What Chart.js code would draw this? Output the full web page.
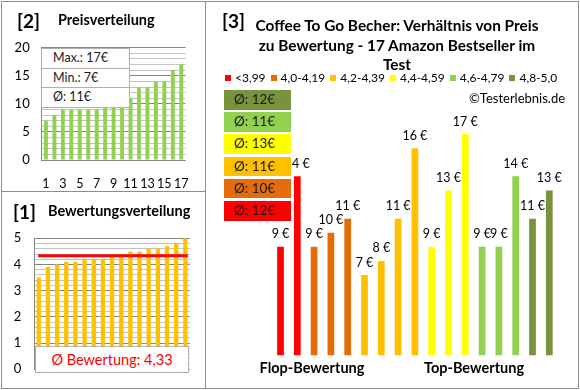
<!DOCTYPE html>
<html><head><meta charset="utf-8">
<script src="https://cdn.jsdelivr.net/npm/chart.js@4.4.1/dist/chart.umd.min.js"></script>
<style>
html,body{margin:0;padding:0;background:#fff;}
#wrap{position:relative;width:580px;height:390px;overflow:hidden;font-family:Lato,'Open Sans',sans-serif;color:#000;}
.abs{position:absolute;}
.t{position:absolute;white-space:nowrap;line-height:1;}
.line{position:absolute;background:#8c8c8c;z-index:5;}
canvas{display:block;}
</style></head><body>
<div id="wrap">
  <canvas id="c2" class="abs" width="205" height="191" style="left:0;top:0"></canvas>
  <canvas id="c1" class="abs" width="205" height="198" style="left:0;top:192px"></canvas>
  <canvas id="c3" class="abs" width="372" height="388" style="left:206px;top:0"></canvas>
</div>
<script>
// ---------- data ----------
const rankLabels = ['1','2','3','4','5','6','7','8','9','10','11','12','13','14','15','16','17'];
const pricesSorted = [7,8,9,9,9,9,9,10,10,10,11,13,13,14,14,16,17];
const ratingsSorted = [3.5,3.9,4.0,4.1,4.1,4.2,4.2,4.2,4.3,4.4,4.5,4.5,4.6,4.6,4.7,4.8,5.0];
const avgRating = 4.33;
const priceStats = ['Max.: 17€','Min.: 7€','Ø: 11€'];
const barPrices = [9,14,9,10,11,7,8,11,16,9,13,17,9,9,14,11,13];
const barClass  = [0,0,1,1,1,2,2,2,2,3,3,3,4,4,4,5,5];
const classLabels = ['<3,99','4,0-4,19','4,2-4,39','4,4-4,59','4,6-4,79','4,8-5,0'];
const classAvg = [12,10,11,13,11,12];
const classColors = ['#FF0000','#E46C0A','#FFC000','#FFFF00','#92D050','#77933C'];

const wrap = document.getElementById('wrap');
function addText(txt, css){ const d=document.createElement('div'); d.className='t'; d.textContent=txt; d.style.cssText+=css; wrap.appendChild(d); return d; }
function addLine(l,t,w,h){ const d=document.createElement('div'); d.className='line'; d.style.left=l+'px'; d.style.top=t+'px'; d.style.width=w+'px'; d.style.height=h+'px'; wrap.appendChild(d); }

// frame lines
addLine(1,1,578,1); addLine(1,388,578,1); addLine(1,1,1,388); addLine(578,1,1,388);
addLine(205,1,1,388); addLine(1,191,205,1);

// titles
addText('[2]','left:17px;top:11px;font-size:19px;font-weight:bold;');
addText('Preisverteilung','left:58px;top:13px;font-size:14.5px;font-weight:bold;');
addText('[1]','left:13px;top:202px;font-size:19px;font-weight:bold;');
addText('Bewertungsverteilung','left:48px;top:204px;font-size:14.5px;font-weight:bold;');
addText('[3]','left:222px;top:11px;font-size:19px;font-weight:bold;');
['Coffee To Go Becher: Verhältnis von Preis','zu Bewertung - 17 Amazon Bestseller im','Test'].forEach((s,i)=>{
  addText(s,'left:397px;top:'+(18+i*19.5)+'px;font-size:15.4px;font-weight:bold;transform:translateX(-50%);');
});
addText('©Testerlebnis.de','left:469px;top:92px;font-size:13px;');
addText('Flop-Bewertung','left:312px;top:361px;font-size:14.5px;font-weight:bold;transform:translateX(-50%);');
addText('Top-Bewertung','left:474px;top:361px;font-size:14.5px;font-weight:bold;transform:translateX(-50%);');

// legend
const leg=document.createElement('div');
leg.style.cssText='position:absolute;left:225px;top:71px;display:flex;gap:5px;font-size:12px;line-height:14px;white-space:nowrap;';
classLabels.forEach((lab,i)=>{
  const it=document.createElement('div'); it.style.cssText='display:flex;align-items:center;gap:4px;';
  const sq=document.createElement('span'); sq.style.cssText='display:inline-block;width:6px;height:6px;background:'+classColors[i]+';';
  const tx=document.createElement('span'); tx.textContent=lab;
  it.appendChild(sq); it.appendChild(tx); leg.appendChild(it);
});
wrap.appendChild(leg);

// class average boxes (top: best class)
for(let k=0;k<6;k++){
  const ci=5-k;
  const d=document.createElement('div');
  d.style.cssText='position:absolute;z-index:4;left:224px;width:67px;height:19.5px;top:'+(90+k*22.2)+'px;background:'+classColors[ci]+';font-size:13.5px;line-height:19.5px;color:#1a1a1a;padding-left:10px;box-sizing:border-box;';
  d.textContent='Ø: '+classAvg[ci]+'€';
  wrap.appendChild(d);
}

// price stats box
const pb=document.createElement('div');
pb.style.cssText='position:absolute;z-index:4;left:41px;top:48px;width:89px;background:#fff;border:1px solid #b0b0b0;box-sizing:border-box;';
priceStats.forEach((s,i)=>{
  const r=document.createElement('div');
  r.style.cssText='height:18.6px;line-height:18.6px;font-size:12.5px;padding-left:11px;color:#1a1a1a;'+(i<2?'border-bottom:1px solid #b0b0b0;':'');
  r.textContent=s; pb.appendChild(r);
});
wrap.appendChild(pb);

// rating avg box
const rb=document.createElement('div');
rb.style.cssText='position:absolute;z-index:4;left:35px;top:346px;width:154px;height:27px;background:#fff;border:1px solid #b0b0b0;box-sizing:border-box;color:#FF0000;font-size:14.5px;line-height:25px;text-align:center;';
rb.textContent='Ø Bewertung: '+String(avgRating).replace('.',',');
wrap.appendChild(rb);

Chart.defaults.font.family="Lato,'Open Sans',sans-serif";
Chart.defaults.color='#000';

const gridCol = (step)=> (ctx)=> (Math.abs(ctx.tick.value/step - Math.round(ctx.tick.value/step))<1e-6 ? '#868686' : '#c4c4c4');

// chart [2]
new Chart(document.getElementById('c2'),{
  type:'bar',
  data:{labels:rankLabels,datasets:[{data:pricesSorted,backgroundColor:'#92D050',barPercentage:0.46,categoryPercentage:1}]},
  options:{responsive:false,animation:false,
    plugins:{legend:{display:false},tooltip:{enabled:false}},
    layout:{padding:{left:0,top:47.7,right:16.2,bottom:0}},
    scales:{
      x:{grid:{display:false,drawTicks:false},border:{color:'#868686'},
         ticks:{autoSkip:false,maxRotation:0,padding:16,font:{size:12.5},callback:(v,i)=> i%2===0?rankLabels[i]:''},
         afterFit:s=>{s.height=31;}},
      y:{min:0,max:20,
         ticks:{stepSize:1,autoSkip:false,padding:12,font:{size:13},callback:v=> v%5===0?String(v):''},
         grid:{drawTicks:false,color:gridCol(5)},border:{color:'#868686'},
         afterFit:s=>{s.width=41.7;}}
    }}
});

// chart [1]
const avgLinePlugin={id:'avgLine',afterDatasetsDraw(chart){
  const c=chart.ctx,a=chart.chartArea,y=chart.scales.y.getPixelForValue(avgRating);
  c.save();c.strokeStyle='#FF0000';c.lineWidth=3;c.beginPath();c.moveTo(a.left+4,y);c.lineTo(a.right-2,y);c.stroke();c.restore();
}};
new Chart(document.getElementById('c1'),{
  type:'bar',
  data:{labels:rankLabels,datasets:[{data:ratingsSorted,backgroundColor:'#FFC000',barPercentage:0.47,categoryPercentage:1}]},
  options:{responsive:false,animation:false,
    plugins:{legend:{display:false},tooltip:{enabled:false}},
    layout:{padding:{left:0,top:46.3,right:15.1,bottom:16}},
    scales:{
      x:{display:false},
      y:{min:0,max:5,
         ticks:{stepSize:0.2,autoSkip:false,padding:13,font:{size:13},callback:v=> Math.abs(v-Math.round(v))<1e-6?String(Math.round(v)):''},
         grid:{drawTicks:false,color:gridCol(1)},border:{color:'#868686'},
         afterFit:s=>{s.width=34.2;}}
    }},
  plugins:[avgLinePlugin]
});

// chart [3]
const labelPlugin={id:'vals',afterDatasetsDraw(chart){
  const c=chart.ctx; const meta=chart.getDatasetMeta(0);
  c.save(); c.font="12.5px Lato,'Open Sans',sans-serif"; c.fillStyle='#000'; c.textAlign='center'; c.textBaseline='middle';
  meta.data.forEach((b,i)=>{ c.fillText(barPrices[i]+' €', b.x, b.y-12.5); });
  c.restore();
}};
new Chart(document.getElementById('c3'),{
  type:'bar',
  data:{labels:rankLabels,datasets:[{data:barPrices,backgroundColor:barClass.map(k=>classColors[k]),barPercentage:0.4,categoryPercentage:1}]},
  options:{responsive:false,animation:false,
    plugins:{legend:{display:false},tooltip:{enabled:false}},
    layout:{padding:{left:66.1,top:120,right:20.3,bottom:32.7}},
    scales:{x:{display:false},y:{display:false,min:1.3,max:18}}},
  plugins:[labelPlugin]
});
</script>
</body></html>
